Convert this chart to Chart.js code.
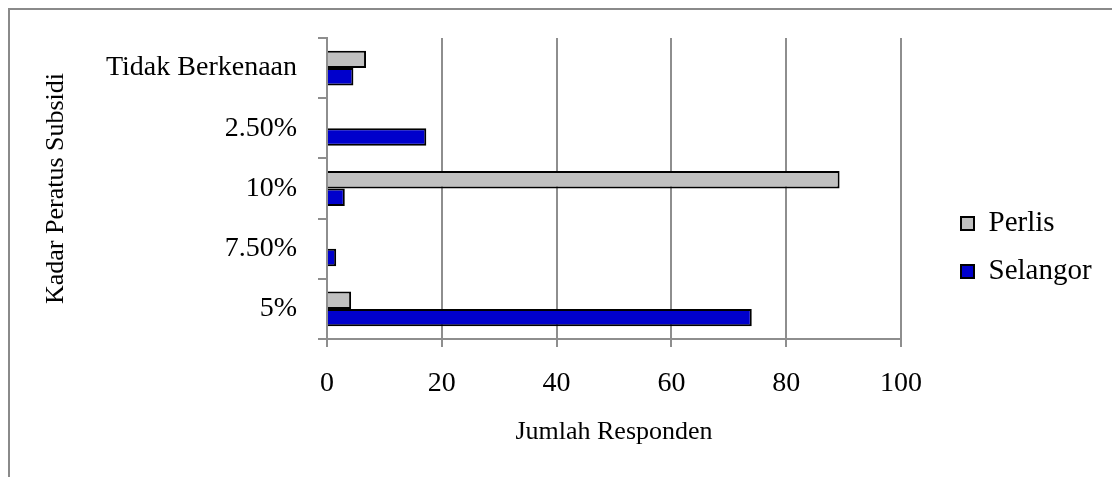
<!DOCTYPE html>
<html>
<head>
<meta charset="utf-8">
<script src="https://cdn.jsdelivr.net/npm/chart.js@4/dist/chart.umd.min.js"></script>
<style>
  body { margin: 0; background: #fff; }
  #frame { position: absolute; left: 8px; top: 8px; width: 1200px; height: 600px;
           border-left: 2px solid #8a8a8a; border-top: 2px solid #8a8a8a; }
  #box { position: absolute; left: 0; top: 0; width: 1112px; height: 477px; }
</style>
</head>
<body>
<div id="frame"></div>
<div id="box"><canvas id="myChart"></canvas></div>
<script>
let labels = ['Tidak Berkenaan', '2.50%', '10%', '7.50%', '5%'];
let perlis = [6.8, 0, 89.3, 0, 4.2];
let selangor = [4.6, 17.3, 3.1, 1.6, 74];
let xTicks = [0, 20, 40, 60, 80, 100];

let serif = 'Liberation Serif';
let gridGray = '#8e8e8e';

Chart.defaults.color = '#000';

// push the legend away from the plot, like the original
let legendGap = {
  id: 'legendGap',
  afterInit(chart) {
    let lg = chart.legend;
    let fit = lg.fit;
    lg.fit = function () { fit.call(this); this.width = 211; };
    let draw = lg.draw;
    lg.draw = function () {
      this.left += 41; this.top += 4; this.bottom += 4;
      draw.call(this);
      this.left -= 41; this.top -= 4; this.bottom -= 4;
    };
  }
};

let ctx = document.getElementById('myChart').getContext('2d');

let chart = new Chart(ctx, {
  type: 'bar',
  data: {
    labels: labels,
    datasets: [{
      label: 'Perlis',
      data: perlis,
      backgroundColor: '#c0c0c0',
      borderColor: '#000',
      borderWidth: 2
    }, {
      label: 'Selangor',
      data: selangor,
      backgroundColor: '#0000cc',
      borderColor: '#000',
      borderWidth: 2
    }]
  },
  plugins: [legendGap],
  options: {
    indexAxis: 'y',
    responsive: true,
    maintainAspectRatio: false,
    animation: false,
    categoryPercentage: 0.58,
    barPercentage: 1,
    layout: { padding: { top: 38, bottom: 28, left: 0, right: 0 } },
    scales: {
      x: {
        min: 0,
        max: 100,
        afterBuildTicks: function (s) { s.ticks = xTicks.map(v => ({ value: v })); },
        afterFit: function (s) { s.height = 110; },
        grid: { color: gridGray, lineWidth: 2, tickLength: 8, tickColor: gridGray },
        border: { color: gridGray, width: 2 },
        ticks: { font: { family: serif, size: 28 }, padding: 20 },
        title: {
          display: true,
          text: 'Jumlah Responden',
          font: { family: serif, size: 26 },
          padding: { top: 0, bottom: 1 }
        }
      },
      y: {
        afterFit: function (s) { s.width = 327; },
        grid: { drawOnChartArea: false, offset: true, color: gridGray, lineWidth: 2, tickLength: 9 },
        border: { color: gridGray, width: 2 },
        ticks: { font: { family: serif, size: 28 }, padding: 21 },
        title: {
          display: true,
          text: 'Kadar Peratus Subsidi',
          font: { family: serif, size: 26 },
          padding: { top: 41, bottom: 0 }
        }
      }
    },
    plugins: {
      legend: {
        position: 'right',
        labels: {
          font: { family: serif, size: 29 },
          boxWidth: 13,
          boxHeight: 13,
          padding: 19
        }
      },
      tooltip: { enabled: false }
    }
  }
});
</script>
</body>
</html>
